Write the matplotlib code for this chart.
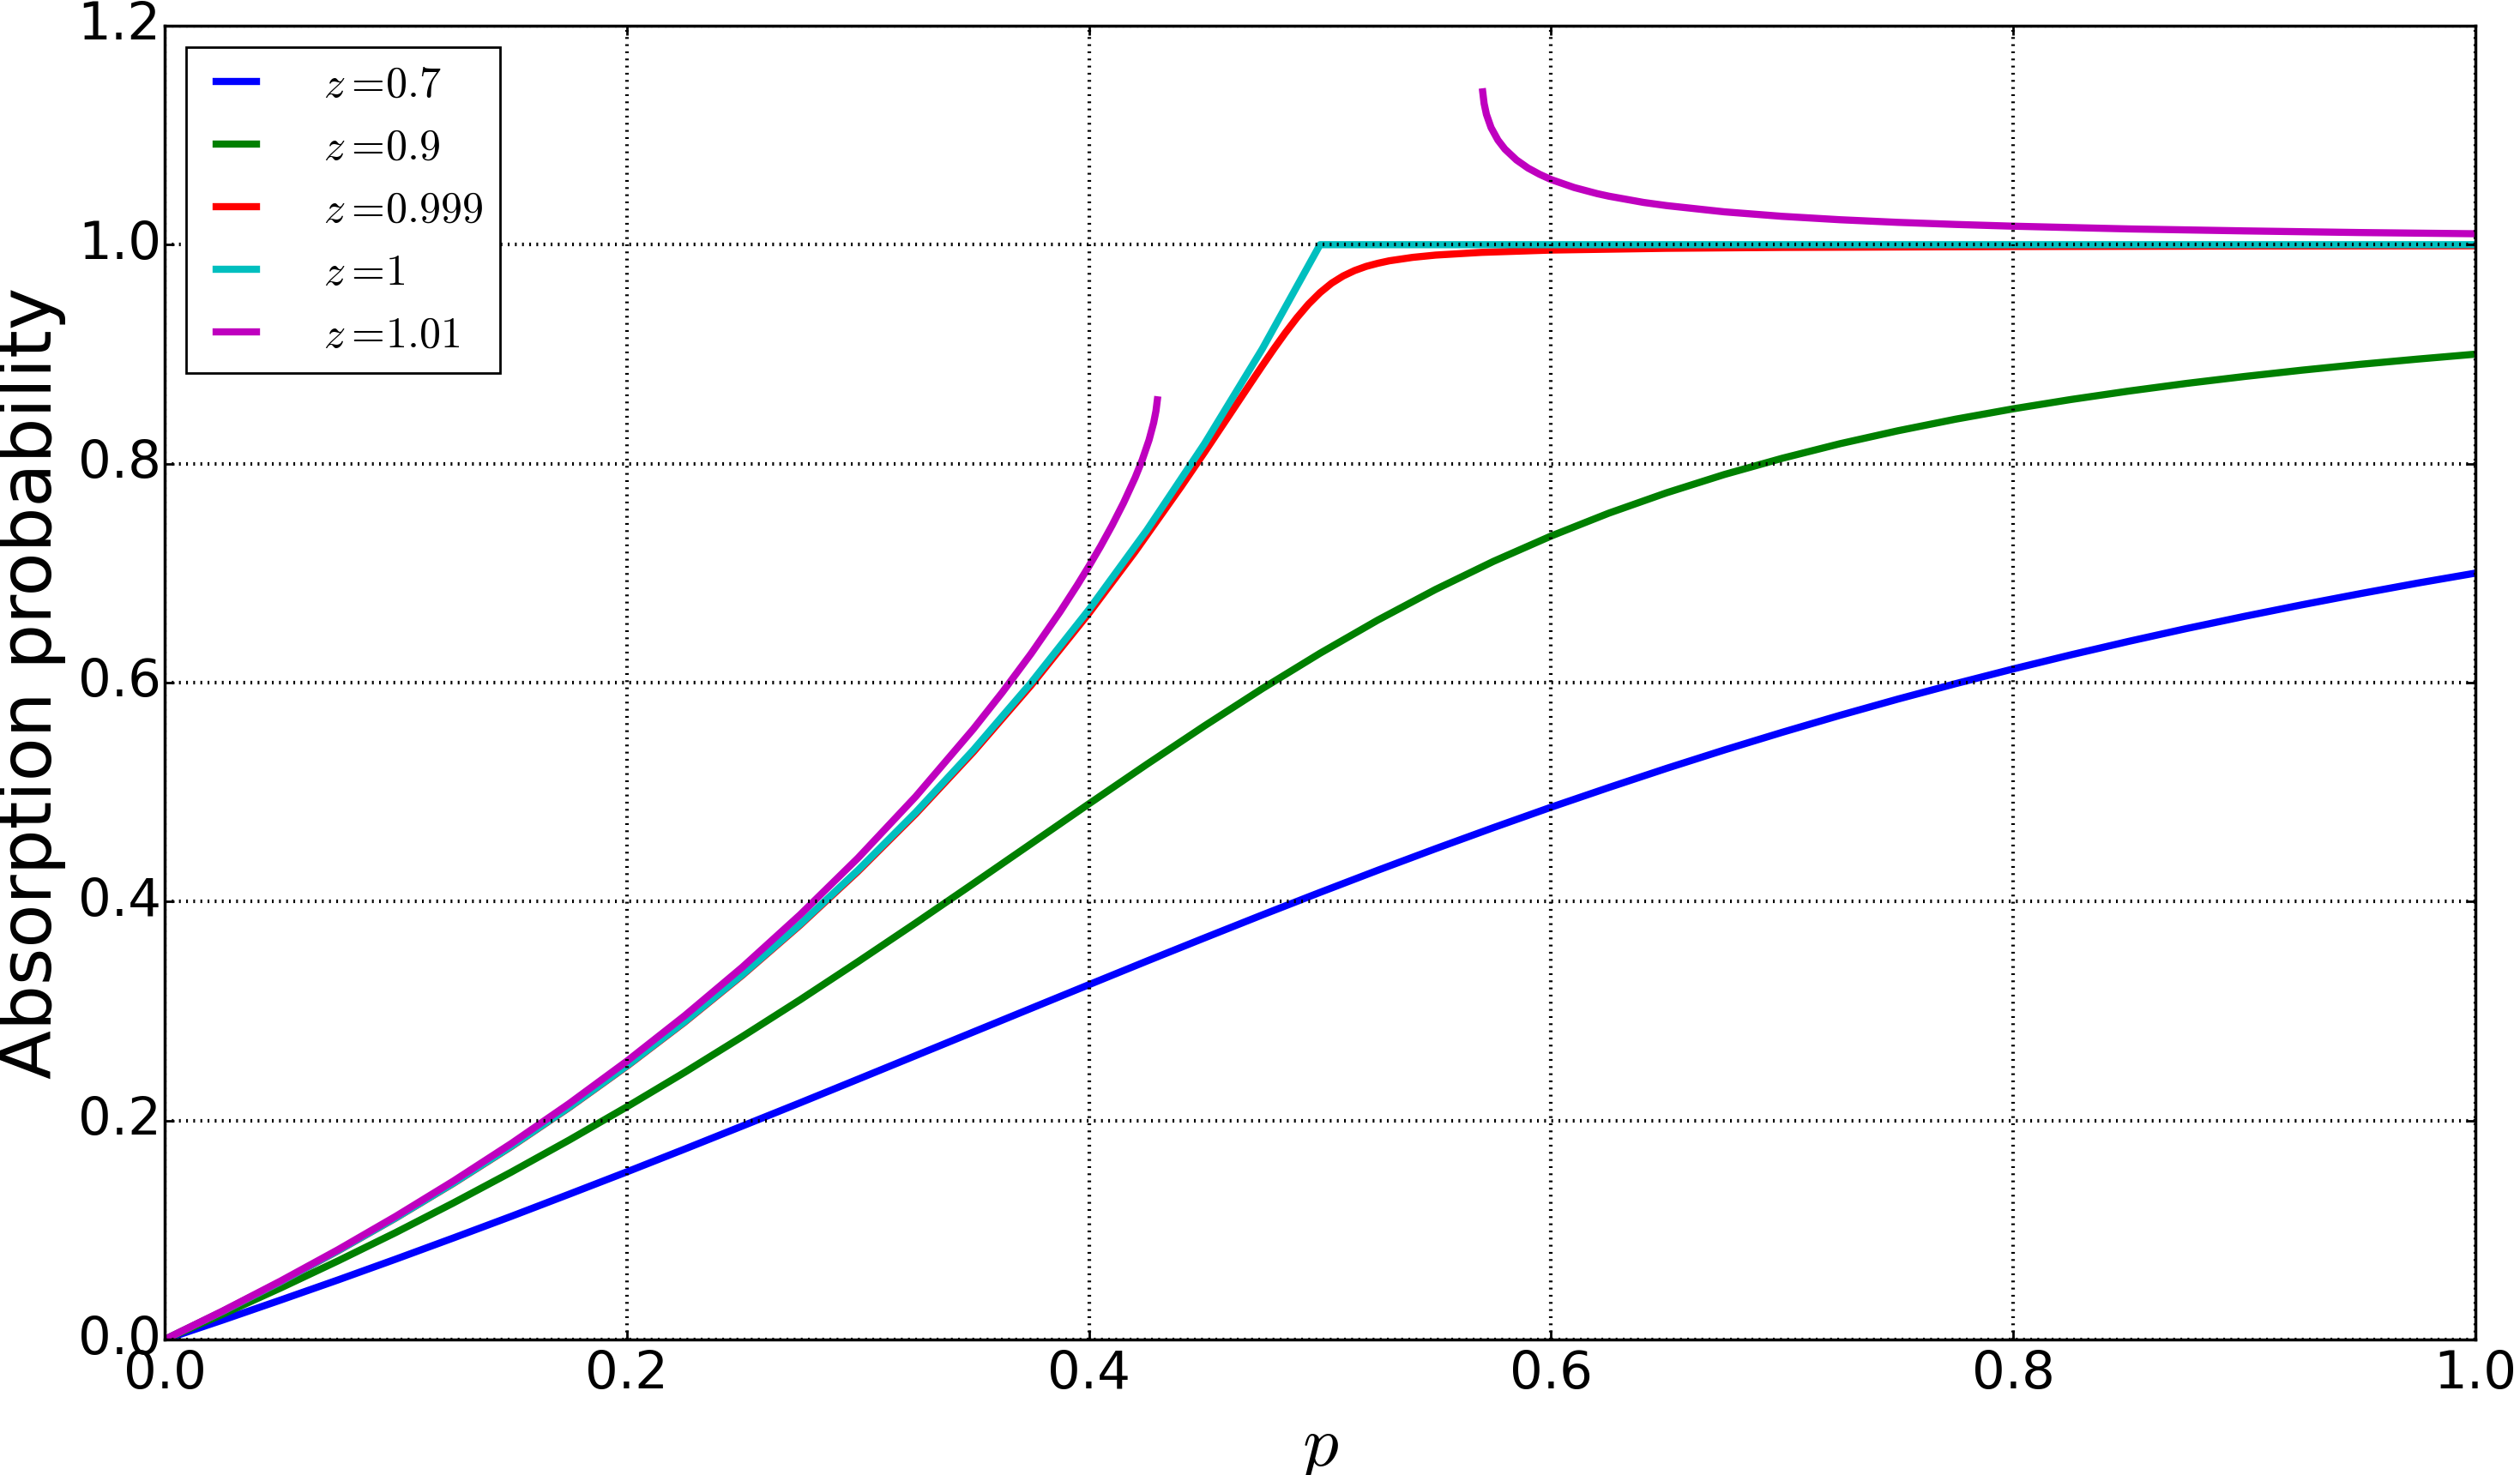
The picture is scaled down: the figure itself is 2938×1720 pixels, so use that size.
import matplotlib
matplotlib.use("Agg")
import matplotlib.pyplot as plt

# ---- data ----
p_a = [0.000, 0.025, 0.050, 0.075, 0.100, 0.125, 0.150, 0.175, 0.200, 0.225,
       0.250, 0.275, 0.300, 0.325, 0.350, 0.375, 0.400, 0.425, 0.450, 0.475,
       0.500, 0.525, 0.550, 0.575, 0.600, 0.625, 0.650, 0.675, 0.700, 0.725,
       0.750, 0.775, 0.800, 0.825, 0.850, 0.875, 0.900, 0.925, 0.950, 0.975, 1.000]
y_z07 = [0.0000, 0.0177, 0.0359, 0.0544, 0.0734, 0.0928, 0.1125, 0.1327, 0.1531, 0.1739,
         0.1950, 0.2162, 0.2377, 0.2593, 0.2809, 0.3025, 0.3241, 0.3456, 0.3668, 0.3878,
         0.4084, 0.4286, 0.4483, 0.4675, 0.4862, 0.5042, 0.5217, 0.5385, 0.5546, 0.5701,
         0.5849, 0.5990, 0.6125, 0.6254, 0.6377, 0.6494, 0.6605, 0.6711, 0.6812, 0.6909, 0.7000]
y_z09 = [0.0000, 0.0230, 0.0469, 0.0718, 0.0977, 0.1248, 0.1529, 0.1821, 0.2125, 0.2440,
         0.2767, 0.3103, 0.3450, 0.3804, 0.4165, 0.4529, 0.4893, 0.5253, 0.5605, 0.5945,
         0.6268, 0.6571, 0.6851, 0.7107, 0.7339, 0.7548, 0.7734, 0.7901, 0.8049, 0.8182,
         0.8300, 0.8406, 0.8501, 0.8586, 0.8663, 0.8733, 0.8796, 0.8854, 0.8907, 0.8955, 0.9000]

p_r = [0.000, 0.025, 0.050, 0.075, 0.100, 0.125, 0.150, 0.175, 0.200, 0.225,
       0.250, 0.275, 0.300, 0.325, 0.350, 0.375, 0.400, 0.420, 0.440, 0.450,
       0.460, 0.470, 0.475, 0.480, 0.485, 0.490, 0.495, 0.500, 0.505, 0.510,
       0.515, 0.520, 0.525, 0.530, 0.540, 0.550, 0.570, 0.600, 0.650, 0.700,
       0.800, 0.900, 1.000]
y_z0999 = [0.0000, 0.0256, 0.0526, 0.0810, 0.1110, 0.1427, 0.1762, 0.2118, 0.2496, 0.2898,
           0.3327, 0.3785, 0.4275, 0.4801, 0.5367, 0.5976, 0.6634, 0.7197, 0.7794, 0.8104,
           0.8420, 0.8737, 0.8894, 0.9048, 0.9195, 0.9333, 0.9457, 0.9562, 0.9648, 0.9714,
           0.9764, 0.9802, 0.9830, 0.9853, 0.9884, 0.9905, 0.9930, 0.9951, 0.9967, 0.9975,
           0.9983, 0.9988, 0.9990]

p_c = [0.000, 0.025, 0.050, 0.075, 0.100, 0.125, 0.150, 0.175, 0.200, 0.225,
       0.250, 0.275, 0.300, 0.325, 0.350, 0.375, 0.400, 0.425, 0.450, 0.475,
       0.500, 1.000]
y_z1 = [0.0000, 0.0256, 0.0526, 0.0811, 0.1111, 0.1429, 0.1765, 0.2121, 0.2500, 0.2903,
        0.3333, 0.3793, 0.4286, 0.4815, 0.5385, 0.6000, 0.6667, 0.7391, 0.8182, 0.9048,
        1.0000, 1.0000]

p_m_left = [0.000, 0.025, 0.050, 0.075, 0.100, 0.125, 0.150, 0.175, 0.200, 0.225,
            0.250, 0.275, 0.300, 0.325, 0.350, 0.3625, 0.375, 0.3875, 0.395, 0.400,
            0.405, 0.410, 0.415, 0.420, 0.423, 0.426, 0.428, 0.429, 0.4296]
y_z101_left = [0.0000, 0.0259, 0.0532, 0.0820, 0.1125, 0.1448, 0.1790, 0.2154, 0.2542, 0.2957,
               0.3401, 0.3880, 0.4397, 0.4959, 0.5577, 0.5911, 0.6266, 0.6647, 0.6892, 0.7064,
               0.7244, 0.7436, 0.7643, 0.7873, 0.8031, 0.8216, 0.8374, 0.8482, 0.8583]
p_m_right = [0.5704, 0.571, 0.572, 0.574, 0.577, 0.580, 0.585, 0.590, 0.595, 0.600,
             0.610, 0.620, 0.625, 0.640, 0.650, 0.675, 0.700, 0.725, 0.750, 0.775,
             0.800, 0.850, 0.900, 0.950, 1.000]
y_z101_right = [1.1396, 1.1290, 1.1191, 1.1070, 1.0955, 1.0873, 1.0774, 1.0700, 1.0643, 1.0595,
                1.0522, 1.0466, 1.0443, 1.0386, 1.0357, 1.0300, 1.0259, 1.0228, 1.0204, 1.0185,
                1.0169, 1.0144, 1.0126, 1.0111, 1.0100]

labels = [r"$z=\!0.7$", r"$z=\!0.9$", r"$z=\!0.999$", r"$z=\!1$", r"$z=\!1.01$"]
colors = ["#0000ff", "#008000", "#ff0000", "#00bfbf", "#bf00bf"]

x_ticks = [0.0, 0.2, 0.4, 0.6, 0.8, 1.0]
y_ticks = [0.0, 0.2, 0.4, 0.6, 0.8, 1.0, 1.2]

# ---- style ----
plt.style.use("classic")
plt.rcParams["mathtext.fontset"] = "cm"
plt.rcParams["font.family"] = ["DejaVu Sans"]
plt.rcParams["lines.scale_dashes"] = False

fig = plt.figure(figsize=(14.69, 8.6), dpi=200, facecolor="white")
ax = fig.add_axes([0.06535, 0.09186, 0.91695, 0.89070])
ax.set_facecolor("white")

lw = 3.0
ax.plot(p_a, y_z07, color=colors[0], lw=lw, label=labels[0])
ax.plot(p_a, y_z09, color=colors[1], lw=lw, label=labels[1])
ax.plot(p_r, y_z0999, color=colors[2], lw=lw, label=labels[2])
ax.plot(p_c, y_z1, color=colors[3], lw=lw, label=labels[3])
ax.plot(p_m_left, y_z101_left, color=colors[4], lw=lw, label=labels[4])
ax.plot(p_m_right, y_z101_right, color=colors[4], lw=lw)

ax.set_xlim(0, 1)
ax.set_ylim(0, 1.2)
ax.set_xticks(x_ticks)
ax.set_yticks(y_ticks)
ax.set_xticklabels([f"{v:.1f}" for v in x_ticks])
ax.set_yticklabels([f"{v:.1f}" for v in y_ticks])
ax.tick_params(axis="both", which="major", direction="in", length=4, width=1,
               labelsize=22, top=True, right=True)
ax.tick_params(axis="x", pad=4)
ax.tick_params(axis="y", pad=1.5)

ax.grid(True, color="k", linestyle=(0, (0.75, 2.25)), linewidth=1.5)
ax.set_axisbelow(False)
for s in ax.spines.values():
    s.set_linewidth(1.25)

ax.set_xlabel(r"$p$", fontsize=30, labelpad=5)
ax.set_ylabel("Absorption probability", fontsize=30, labelpad=5)

leg = ax.legend(loc="upper left", fontsize=18, handlelength=1.55, handletextpad=1.25,
                labelspacing=0.5, borderpad=0.4, borderaxespad=0.5,
                fancybox=False, frameon=True, numpoints=2)
leg.get_frame().set_edgecolor("black")
leg.get_frame().set_linewidth(1.0)

fig.savefig("out.png", dpi=200, facecolor="white")
